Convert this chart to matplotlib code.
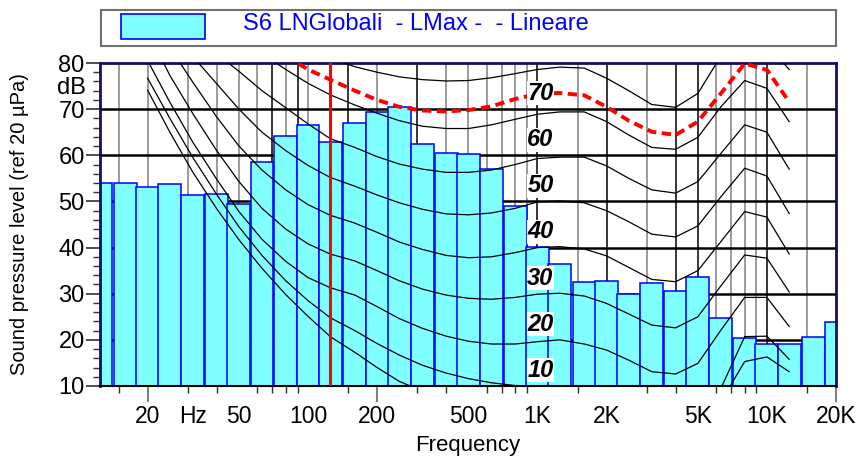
import matplotlib
matplotlib.use("Agg")
import matplotlib.pyplot as plt
from matplotlib.patches import Rectangle
import numpy as np

plt.rcParams['font.family'] = ['Liberation Sans', 'DejaVu Sans']

# Bande di terzo d'ottava e livelli LMax misurati
bande = [12.5, 16, 20, 25, 31.5, 40, 50, 63, 80, 100, 125, 160, 200, 250, 315, 400, 500,
         630, 800, 1000, 1250, 1600, 2000, 2500, 3150, 4000, 5000, 6300, 8000, 10000,
         12500, 16000, 20000]
livelli = [54.1, 53.9, 53.1, 53.7, 51.4, 51.7, 49.5, 58.5, 64.1, 66.5, 62.8, 67.1, 69.3,
           70.5, 62.4, 60.4, 60.3, 57.0, 49.1, 40.1, 36.4, 32.5, 32.7, 29.9, 32.3, 30.5,
           33.7, 24.7, 20.5, 19.0, 19.1, 20.6, 23.9]

# Curve isofoniche
freq_iso = [20, 25, 31.5, 40, 50, 63, 80, 100, 125, 160, 200, 250, 315, 400, 500, 630, 800,
            1000, 1250, 1600, 2000, 2500, 3150, 4000, 5000, 6300, 8000, 10000, 12500]
phon_0 = [74.1, 65.0, 56.3, 48.4, 41.7, 35.5, 29.8, 25.1, 20.7, 17.3, 14.0, 11.0, 8.9, 7.2,
          6.0, 5.0, 4.4, 4.2, 3.7, 2.6, 1.0, -1.2, -3.6, -3.9, -1.1, 6.6, 15.3, 16.3, 13.1]
phon_10 = [76.7, 68.0, 59.5, 51.5, 44.5, 38.3, 32.8, 28.5, 24.8, 22.0, 19.2, 16.7, 14.5, 12.8,
           11.6, 10.7, 10.1, 9.9, 9.5, 9.1, 7.8, 5.6, 3.1, 2.6, 4.5, 9.5, 20.7, 20.8, 15.8]
phon_20 = [80.5, 71.5, 62.8, 54.8, 47.8, 41.8, 37.0, 33.5, 31.3, 29.7, 27.2, 24.6, 22.5, 20.8,
           19.7, 19.1, 19.1, 19.6, 20.0, 19.1, 17.8, 15.6, 13.1, 12.6, 14.9, 22.1, 29.2, 29.2, 22.9]
phon_30 = [87.0, 77.3, 69.0, 61.0, 54.3, 48.5, 44.0, 40.8, 38.6, 37.1, 35.0, 32.8, 31.0, 29.7,
           29.0, 28.8, 29.2, 29.9, 30.1, 29.5, 27.9, 25.6, 23.2, 22.6, 25.0, 31.7, 38.4, 37.7, 30.4]
phon_40 = [91.0, 83.4, 75.8, 68.3, 62.0, 56.8, 52.5, 49.3, 47.0, 45.3, 43.3, 41.2, 39.6, 38.3,
           37.8, 38.0, 38.9, 40.0, 40.2, 39.7, 38.2, 35.7, 33.1, 32.6, 35.0, 41.3, 47.8, 46.6, 38.6]
phon_50 = [95.0, 88.0, 81.4, 75.5, 70.0, 65.0, 61.0, 57.8, 55.2, 53.3, 51.4, 49.7, 48.3, 47.3,
           47.1, 47.5, 48.5, 49.9, 50.1, 49.7, 48.0, 45.6, 42.9, 42.3, 44.7, 51.0, 57.2, 55.5, 47.4]
phon_60 = [94.0, 90.0, 86.0, 82.0, 78.2, 74.0, 70.3, 66.8, 63.6, 61.7, 59.7, 58.1, 57.0, 56.3,
           56.3, 56.8, 58.0, 59.3, 59.6, 59.6, 57.7, 55.0, 52.5, 51.8, 54.3, 60.4, 66.6, 65.0, 57.0]
phon_70 = [105.0, 100.0, 95.0, 90.0, 85.5, 82.0, 78.6, 75.6, 73.1, 70.9, 69.1, 67.5, 66.3, 65.8,
           65.8, 66.6, 67.8, 68.9, 69.4, 69.4, 67.3, 64.4, 61.7, 61.3, 63.9, 70.5, 76.2, 74.5, 67.3]
phon_80 = [110.0, 105.0, 100.0, 96.0, 92.0, 89.0, 86.0, 83.5, 81.0, 79.2, 78.0, 77.0, 76.4, 76.1,
           76.2, 76.8, 77.7, 78.6, 79.1, 78.9, 76.7, 74.0, 71.0, 70.4, 73.4, 81.5, 86.0, 84.0, 78.6]
curve = [phon_0, phon_10, phon_20, phon_30, phon_40, phon_50, phon_60, phon_70, phon_80]
etichette = [10, 20, 30, 40, 50, 60, 70]

# curva rossa tratteggiata (da 80 Hz)
freq_rossa = freq_iso[6:]
curva_rossa = [81.5, 78.6, 76.4, 74.0, 72.0, 70.5, 69.7, 69.5, 69.8, 70.6, 72.2, 73.3, 73.5,
               73.0, 70.5, 67.5, 65.1, 64.4, 67.3, 73.4, 79.9, 78.5, 71.6]

freq_marker = 125

griglia_f = [15, 20, 30, 40, 50, 60, 70, 80, 90, 100, 150, 200, 300, 400, 500, 600, 700, 800,
             900, 1000, 1500, 2000, 3000, 4000, 5000, 6000, 7000, 8000, 9000, 10000, 15000]
griglia_nere = [70, 90, 150, 300, 1000, 2000, 4000, 5000, 10000]

tick_pos = [20, 31.6, 50, 100, 200, 500, 1000, 2000, 5000, 10000, 20000]
tick_lab = ['20', 'Hz', '50', '100', '200', '500', '1K', '2K', '5K', '10K', '20K']

fig = plt.figure(figsize=(8.57, 4.59), dpi=100)
ax = fig.add_axes([100/857, 1-386/459, 736/857, 323/459])
ax.set_xscale('log')
ax.set_xlim(12.4, 20000)
ax.set_ylim(10, 80)

# griglia
for f in griglia_f:
    col = 'black' if f in griglia_nere else '#808080'
    ax.axvline(f, color=col, lw=1.1, zorder=1)
for y in range(20, 80, 10):
    ax.axhline(y, color='black', lw=1.8, zorder=1)

# barre
b = np.array(bande)
sx = b / 10**0.05
dx = b * 10**0.05
ax.bar(sx, livelli, width=dx-sx, align='edge', bottom=0, color='#80ffff',
       edgecolor='#0000ff', linewidth=1.1, zorder=2)

# isofoniche
for c in curve:
    ax.plot(freq_iso, c, color='black', lw=0.9, zorder=3)

ax.plot(freq_rossa, curva_rossa, color='red', lw=2.8, ls=(0, (2.4, 1.4)), zorder=4)
ax.axvline(freq_marker, color='red', lw=2.2, zorder=4)

for p in etichette:
    ax.text(1030, p + 3.4, str(p), ha='center', va='center', fontsize=17,
            fontweight='bold', fontstyle='italic', zorder=5,
            bbox=dict(facecolor='white', edgecolor='none', pad=0.3))

# assi
for s in ['top', 'left', 'right']:
    ax.spines[s].set_color('#101060')
    ax.spines[s].set_linewidth(2)
ax.spines['bottom'].set_linewidth(1.5)

ax.set_xticks(tick_pos)
ax.set_xticklabels(tick_lab, fontsize=16.5)
ax.set_xticks(griglia_f + [20000], minor=True)
ax.xaxis.set_minor_formatter(plt.NullFormatter())
ax.tick_params(axis='x', which='major', length=0, pad=14)
ax.tick_params(axis='x', which='minor', length=5, width=1, color='#303030')
for f in [20, 200, 20000]:
    ax.plot([f, f], [0, -0.045], transform=ax.get_xaxis_transform(), color='#808080',
            lw=1.5, clip_on=False)

ax.set_yticks(range(10, 81, 10))
ax.set_yticklabels([str(v) for v in range(10, 81, 10)], fontsize=17)
ax.set_yticks(range(10, 81, 2), minor=True)
ax.tick_params(axis='y', which='major', length=10, width=1.2, color='#303030', pad=1)
ax.tick_params(axis='y', which='minor', length=5, width=1, color='#303030')

fig.text(86/857, 1-88/459, 'dB', ha='right', va='center', fontsize=17)
fig.text(20/857, 1-224/459, 'Sound pressure level (ref 20 µPa)', rotation=90,
         ha='center', va='center', fontsize=14.5)
fig.text(468/857, 1-445/459, 'Frequency', ha='center', va='center', fontsize=16)

# legenda
fig.patches.append(Rectangle((101/857, 1-46/459), 735/857, 36/459, transform=fig.transFigure,
                             fill=False, edgecolor='#707070', lw=1.5))
fig.patches.append(Rectangle((121/857, 1-39/459), 84/857, 25/459, transform=fig.transFigure,
                             facecolor='#80ffff', edgecolor='#0000ff', lw=1.2))
fig.text(243/857, 1-24/459, 'S6 LNGlobali  - LMax -  - Lineare', color='#0000ff',
         ha='left', va='center', fontsize=17)

fig.savefig('out.png', dpi=100)
